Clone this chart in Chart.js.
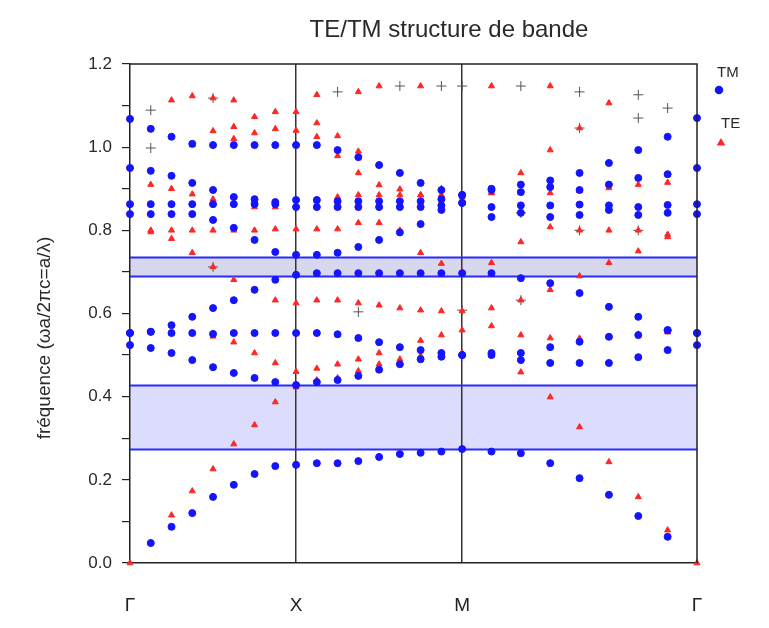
<!DOCTYPE html>
<html lang="fr">
<head>
<meta charset="utf-8">
<title>TE/TM structure de bande</title>
<script src="https://cdn.jsdelivr.net/npm/chart.js@4.4.1/dist/chart.umd.min.js"></script>
<style>
  html, body { margin: 0; padding: 0; background: #fff; }
  #wrap { width: 769px; height: 628px; }
</style>
</head>
<body>
<div id="wrap"><canvas id="bandes" width="769" height="628"></canvas></div>
<script>
// chemin Γ-X-M-Γ : 8 intervalles par segment, longueur relative des segments
const nbIntervalles = 8;
const longueurSegments = [1, 1, Math.SQRT2];
const pointsSym = ['Γ', 'X', 'M', 'Γ'];

// bandes interdites (fréquence basse / haute)
const gapBas = [0.274, 0.690];
const gapHaut = [0.428, 0.735];

// modes TM (un tableau par bande, 25 points k)
const tm1 = [null, 0.048, 0.087, 0.120, 0.159, 0.188, 0.214, 0.233, 0.236, 0.240, 0.240, 0.245, 0.255, 0.262, 0.265, 0.268, 0.274, 0.268, 0.264, 0.240, 0.204, 0.164, 0.113, 0.063, null];
const tm2 = [0.524, 0.517, 0.505, 0.488, 0.471, 0.457, 0.445, 0.435, 0.428, 0.435, 0.440, 0.450, 0.465, 0.478, 0.490, 0.496, 0.500, 0.500, 0.488, 0.481, 0.481, 0.481, 0.495, 0.512, 0.524];
const tm3 = [0.553, 0.556, 0.553, 0.553, 0.551, 0.553, 0.553, 0.553, 0.553, 0.553, 0.550, 0.541, 0.531, 0.519, 0.512, 0.505, 0.500, 0.505, 0.505, 0.519, 0.532, 0.544, 0.548, 0.560, 0.553];
const tm4 = [0.553, 0.556, 0.572, 0.592, 0.613, 0.632, 0.657, 0.681, 0.693, 0.697, 0.697, 0.697, 0.697, 0.697, 0.697, 0.697, 0.697, 0.697, 0.685, 0.673, 0.649, 0.616, 0.592, 0.560, 0.553];
const tm5 = [0.839, 0.839, 0.839, 0.839, 0.825, 0.806, 0.777, 0.748, 0.741, 0.741, 0.746, 0.760, 0.777, 0.795, 0.815, 0.849, 0.866, 0.832, 0.842, 0.832, 0.837, 0.849, 0.837, 0.842, 0.839];
const tm6 = [0.863, 0.863, 0.863, 0.863, 0.863, 0.863, 0.863, 0.863, 0.856, 0.856, 0.856, 0.856, 0.856, 0.856, 0.856, 0.860, 0.866, 0.856, 0.860, 0.860, 0.862, 0.860, 0.856, 0.861, 0.863];
const tm7 = [0.950, 0.943, 0.931, 0.914, 0.897, 0.880, 0.875, 0.868, 0.873, 0.873, 0.870, 0.870, 0.870, 0.870, 0.870, 0.875, 0.885, 0.897, 0.892, 0.904, 0.897, 0.910, 0.926, 0.935, 0.950];
const tm8 = [1.068, 1.044, 1.025, 1.008, 1.005, 1.005, 1.005, 1.005, 1.005, 1.005, 0.993, 0.976, 0.957, 0.938, 0.914, 0.897, 0.885, 0.900, 0.910, 0.920, 0.938, 0.962, 0.993, 1.025, 1.070];

// modes TE
const te1 = [0.000, 0.048, 0.115, 0.173, 0.226, 0.286, 0.332, 0.387, 0.423, 0.440, 0.445, 0.462, 0.478, 0.490, 0.498, 0.503, 0.505, 0.500, 0.459, 0.399, 0.327, 0.243, 0.159, 0.079, 0.000];
const te2 = [null, 0.556, 0.553, 0.553, 0.545, 0.531, 0.505, 0.481, 0.460, 0.468, 0.478, 0.490, 0.505, 0.519, 0.535, 0.548, 0.560, 0.570, 0.548, 0.541, 0.540, 0.544, 0.550, 0.555, null];
const te3 = [null, 0.796, 0.780, 0.746, 0.712, 0.681, 0.657, 0.632, 0.625, 0.632, 0.632, 0.625, 0.620, 0.613, 0.608, 0.606, 0.606, 0.613, 0.632, 0.657, 0.690, 0.722, 0.750, 0.784, null];
const te4 = [null, 0.800, 0.800, 0.800, 0.800, 0.800, 0.800, 0.803, 0.803, 0.803, 0.803, 0.818, 0.818, 0.800, 0.746, 0.720, 0.700, 0.722, 0.772, 0.808, 0.800, 0.800, 0.800, 0.790, null];
const te5 = [null, 0.910, 0.900, 0.887, 0.875, 0.865, 0.856, 0.856, 0.860, 0.870, 0.880, 0.885, 0.885, 0.885, 0.885, 0.885, 0.885, 0.890, 0.890, 0.890, 0.895, 0.902, 0.910, 0.915, null];
const te6 = [null, null, null, 1.005, 1.005, 1.020, 1.034, 1.044, 1.040, 1.025, 0.979, 0.938, 0.909, 0.899, 0.885, 0.880, 0.880, 0.890, 0.938, 0.993, 1.046, null, null, null, null];
const te7 = [null, null, null, null, 1.039, 1.049, 1.073, 1.085, 1.085, 1.058, 1.027, 0.990, 0.957, 0.938, 0.914, 0.900, 0.885, null, null, null, null, null, null, null, null];
const te8 = [null, null, 1.113, 1.123, 1.118, 1.113, null, null, null, 1.126, null, 1.133, 1.147, null, 1.147, null, null, 1.147, null, 1.147, null, 1.106, null, null, null];

// marques "+" noires (indice k, fréquence)
const croixK = [1, 1, 4, 4, 10, 11, 13, 15, 16, 16, 18, 18, 18, 20, 20, 20, 22, 22, 22, 23];
const croixF = [1.089, 0.998, 1.118, 0.712, 1.133, 0.604, 1.147, 1.147, 1.147, 0.608, 1.147, 0.632, 0.842, 1.133, 1.046, 0.800, 1.126, 1.070, 0.800, 1.094];

const bandesTM = [tm1, tm2, tm3, tm4, tm5, tm6, tm7, tm8];
const bandesTE = [te1, te2, te3, te4, te5, te6, te7, te8];

// abscisse de chaque point k le long du chemin
const kPath = [];
let pos = 0;
longueurSegments.forEach((L, s) => {
    for (let i = (s === 0 ? 0 : 1); i <= nbIntervalles; i++) {
        kPath.push(pos + L * i / nbIntervalles);
    }
    pos += L;
});
const kSym = [0, 1, 2, pos];

function versPoints(bandes) {
    const pts = [];
    bandes.forEach(b => b.forEach((f, i) => {
        if (f !== null) pts.push({ x: kPath[i], y: f });
    }));
    return pts;
}

const FONT = '"Liberation Sans", Arial, sans-serif';
const BLEU = '#1414ff';
const ROUGE = '#ff2626';

const decor = {
    id: 'decor',
    beforeDraw(chart) {
        const { ctx, chartArea: a, scales: { y } } = chart;
        const fonds = ['rgba(140, 140, 245, 0.30)', 'rgba(150, 150, 210, 0.38)'];
        ctx.save();
        gapBas.forEach((bas, i) => {
            const yb = y.getPixelForValue(bas), yh = y.getPixelForValue(gapHaut[i]);
            ctx.fillStyle = fonds[i];
            ctx.fillRect(a.left, yh, a.right - a.left, yb - yh);
        });
        ctx.restore();
    },
    beforeDatasetsDraw(chart) {
        const { ctx, chartArea: a, scales: { y } } = chart;
        ctx.save();
        ctx.strokeStyle = '#2a2aff';
        ctx.lineWidth = 2;
        ctx.beginPath();
        gapBas.concat(gapHaut).forEach(f => {
            const yy = Math.round(y.getPixelForValue(f)) + 0.5;
            ctx.moveTo(a.left, yy);
            ctx.lineTo(a.right, yy);
        });
        ctx.stroke();
        ctx.restore();
    },
    afterDraw(chart) {
        const { ctx, chartArea: a } = chart;
        ctx.save();
        // cadre haut et droit
        ctx.strokeStyle = '#222';
        ctx.lineWidth = 1.5;
        ctx.beginPath();
        ctx.moveTo(a.left, a.top);
        ctx.lineTo(a.right, a.top);
        ctx.lineTo(a.right, a.bottom);
        ctx.stroke();

        // titre
        ctx.fillStyle = '#2a2a2a';
        ctx.font = '24px ' + FONT;
        ctx.textAlign = 'center';
        ctx.textBaseline = 'middle';
        ctx.fillText('TE/TM structure de bande', 449, 30);

        // titre de l'axe y
        ctx.save();
        ctx.translate(45, 338);
        ctx.rotate(-Math.PI / 2);
        ctx.font = '19px ' + FONT;
        ctx.fillText('fréquence (ωa/2πc=a/λ)', 0, 0);
        ctx.restore();

        // légende
        ctx.font = '15px ' + FONT;
        ctx.textAlign = 'left';
        ctx.fillText('TM', 717, 73);
        ctx.fillText('TE', 721, 124);
        ctx.fillStyle = BLEU;
        ctx.strokeStyle = BLEU;
        Chart.helpers.drawPoint(ctx, { pointStyle: 'circle', radius: 3.5, borderWidth: 1 }, 719, 90);
        ctx.fillStyle = ROUGE;
        ctx.strokeStyle = ROUGE;
        Chart.helpers.drawPoint(ctx, { pointStyle: 'triangle', radius: 3.5, borderWidth: 1 }, 721, 143);
        ctx.restore();
    }
};

new Chart(document.getElementById('bandes'), {
    type: 'scatter',
    data: {
        datasets: [
            {
                label: 'TM',
                data: versPoints(bandesTM),
                pointStyle: 'circle',
                pointRadius: 3.5,
                backgroundColor: BLEU,
                borderColor: BLEU,
                borderWidth: 1,
                clip: 6
            },
            {
                label: 'TE',
                data: versPoints(bandesTE),
                pointStyle: 'triangle',
                pointRadius: 3.5,
                backgroundColor: ROUGE,
                borderColor: ROUGE,
                borderWidth: 1,
                clip: 6
            },
            {
                label: 'croix',
                data: croixK.map((k, i) => ({ x: kPath[k], y: croixF[i] })),
                pointStyle: 'cross',
                pointRadius: 5,
                borderColor: '#555',
                borderWidth: 1
            }
        ]
    },
    options: {
        responsive: false,
        animation: false,
        events: [],
        layout: { padding: { top: 64, right: 72, left: 0, bottom: 0 } },
        plugins: { legend: { display: false }, tooltip: { enabled: false } },
        scales: {
            x: {
                type: 'linear',
                min: 0,
                max: kSym[3],
                afterBuildTicks: s => { s.ticks = kSym.map(v => ({ value: v })); },
                afterFit: s => { s.height = 65; },
                ticks: {
                    autoSkip: false,
                    maxRotation: 0,
                    padding: 31,
                    color: '#222',
                    font: { family: FONT, size: 19 },
                    callback: (v, i) => pointsSym[i]
                },
                grid: {
                    drawTicks: false,
                    lineWidth: 1.5,
                    color: c => (c.index === 1 || c.index === 2) ? '#333' : 'rgba(0,0,0,0)'
                },
                border: { color: '#222', width: 1.5 }
            },
            y: {
                min: 0,
                max: 1.2,
                afterFit: s => { s.width = 130; },
                ticks: {
                    stepSize: 0.1,
                    padding: 10,
                    color: '#2a2a2a',
                    font: { family: FONT, size: 17 },
                    callback: v => (Math.round(v * 10) % 2 === 0) ? v.toFixed(1) : ''
                },
                grid: { drawOnChartArea: false, drawTicks: true, tickLength: 8, color: '#222', lineWidth: 1.2 },
                border: { color: '#222', width: 1.5 }
            }
        }
    },
    plugins: [decor]
});
</script>
</body>
</html>
